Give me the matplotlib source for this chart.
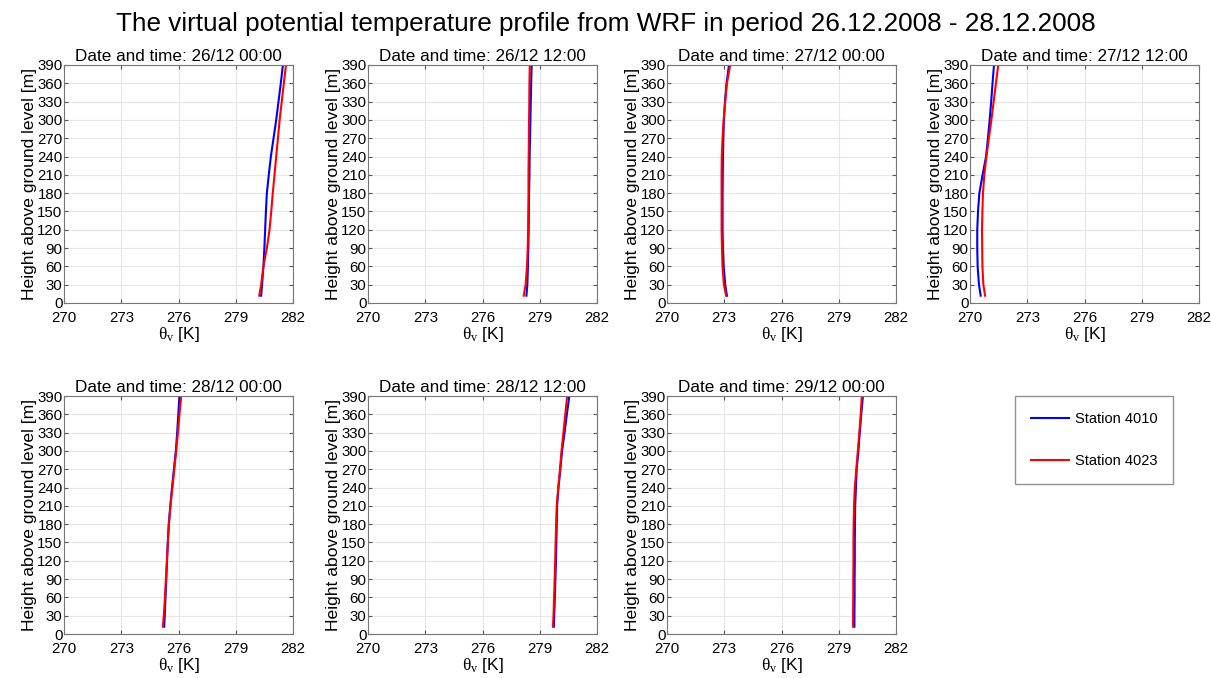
import matplotlib
matplotlib.use('Agg')
from matplotlib import pyplot as plt
import numpy as np

plt.rcParams['font.family'] = ['Liberation Sans', 'DejaVu Sans']
plt.rcParams['mathtext.fontset'] = 'custom'
plt.rcParams['mathtext.rm'] = 'Liberation Serif'
plt.rcParams['mathtext.it'] = 'Liberation Serif'

# model levels [m]
heights = [12, 30, 60, 90, 120, 150, 180, 210, 240, 270, 300, 330, 360, 395]

titles = ['Date and time: 26/12 00:00', 'Date and time: 26/12 12:00',
          'Date and time: 27/12 00:00', 'Date and time: 27/12 12:00',
          'Date and time: 28/12 00:00', 'Date and time: 28/12 12:00',
          'Date and time: 29/12 00:00']

# theta_v [K], station 4010
st4010 = [
    [280.33, 280.38, 280.45, 280.50, 280.54, 280.58, 280.63, 280.73, 280.84, 280.98, 281.12, 281.24, 281.36, 281.49],
    [278.30, 278.35, 278.38, 278.40, 278.42, 278.43, 278.44, 278.46, 278.47, 278.49, 278.51, 278.53, 278.55, 278.58],
    [273.14, 273.05, 272.97, 272.93, 272.91, 272.91, 272.91, 272.92, 272.93, 272.95, 272.98, 273.04, 273.12, 273.27],
    [270.56, 270.47, 270.40, 270.38, 270.38, 270.42, 270.49, 270.66, 270.84, 270.94, 271.03, 271.11, 271.18, 271.27],
    [275.25, 275.28, 275.32, 275.36, 275.40, 275.44, 275.49, 275.57, 275.66, 275.76, 275.86, 275.93, 275.99, 276.06],
    [279.74, 279.76, 279.79, 279.82, 279.85, 279.87, 279.89, 279.91, 279.98, 280.08, 280.17, 280.30, 280.42, 280.57],
    [279.82, 279.82, 279.83, 279.83, 279.84, 279.84, 279.85, 279.86, 279.90, 279.94, 280.03, 280.10, 280.18, 280.28],
]
# theta_v [K], station 4023
st4023 = [
    [280.23, 280.33, 280.45, 280.63, 280.77, 280.86, 280.94, 281.03, 281.12, 281.21, 281.30, 281.41, 281.52, 281.65],
    [278.16, 278.26, 278.33, 278.37, 278.39, 278.40, 278.41, 278.41, 278.42, 278.43, 278.44, 278.45, 278.46, 278.48],
    [273.10, 272.98, 272.91, 272.88, 272.86, 272.86, 272.86, 272.86, 272.87, 272.91, 272.97, 273.05, 273.14, 273.34],
    [270.79, 270.70, 270.65, 270.64, 270.63, 270.65, 270.68, 270.75, 270.86, 270.99, 271.12, 271.24, 271.36, 271.50],
    [275.18, 275.23, 275.29, 275.34, 275.39, 275.44, 275.50, 275.58, 275.68, 275.78, 275.88, 275.97, 276.05, 276.16],
    [279.69, 279.72, 279.75, 279.78, 279.81, 279.83, 279.86, 279.89, 279.97, 280.06, 280.14, 280.24, 280.34, 280.45],
    [279.75, 279.75, 279.76, 279.76, 279.77, 279.77, 279.78, 279.80, 279.84, 279.92, 280.00, 280.08, 280.15, 280.22],
]

xticks = [270, 273, 276, 279, 282]
yticks = list(range(0, 391, 30))

W, H = 1211, 678
fig = plt.figure(figsize=(W / 100, H / 100), dpi=100)

lefts = [64, 368, 667, 970]
tops = [65, 396]
aw, ah = 229, 238

lines = []
for i in range(7):
    r, c = divmod(i, 4)
    ax = fig.add_axes([lefts[c] / W, 1 - (tops[r] + ah) / H, aw / W, ah / H])
    l1, = ax.plot(st4010[i], heights, color='#0000ff', lw=1.5)
    l2, = ax.plot(st4023[i], heights, color='#ff0000', lw=1.5)
    lines = [l1, l2]
    ax.set_xlim(270, 282)
    ax.set_ylim(0, 390)
    ax.set_xticks(xticks)
    ax.set_yticks(yticks)
    ax.grid(True, color='#e6e6e6', lw=0.8)
    ax.set_axisbelow(True)
    ax.tick_params(direction='in', top=True, right=True, length=3,
                   color='#555555', labelsize=10.8, pad=1)
    ax.tick_params(axis='x', pad=5.5)
    for s in ax.spines.values():
        s.set_color('#777777')
    ax.set_title(titles[i], fontsize=12.3, pad=3)
    ax.set_xlabel(r'$\theta_{\rm v}$ [K]', fontsize=12.5, labelpad=0)
    ax.set_ylabel('Height above ground level [m]', fontsize=12.6, labelpad=0)

leg = fig.legend(lines, ['Station 4010', 'Station 4023'],
                 loc='upper left', bbox_to_anchor=(1015 / W, 1 - 396 / H),
                 borderaxespad=0, fontsize=10.5, frameon=True, fancybox=False,
                 borderpad=1.1, labelspacing=1.9, handlelength=2.6,
                 handletextpad=0.4)
leg.get_frame().set_edgecolor('#777777')
leg.get_frame().set_linewidth(1.0)

fig.suptitle('The virtual potential temperature profile from WRF in period 26.12.2008 - 28.12.2008',
             fontsize=18.8, y=0.982)

plt.savefig('out.png', dpi=100)
